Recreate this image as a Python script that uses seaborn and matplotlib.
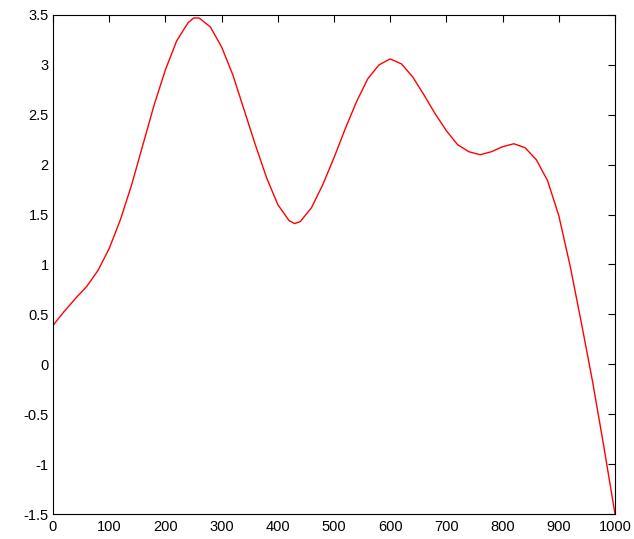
import matplotlib
matplotlib.use("Agg")
import matplotlib.pyplot as plt
import seaborn as sns
import pandas as pd

x_vals = [0, 20, 40, 60, 80, 100, 120, 140, 160, 180, 200, 220, 240, 250, 260, 280,
          300, 320, 340, 360, 380, 400, 420, 430, 440, 460, 480, 500, 520, 540, 560,
          580, 600, 620, 640, 660, 680, 700, 720, 740, 760, 780, 800, 820, 840, 860,
          880, 900, 920, 940, 960, 980, 1000]
y_vals = [0.39, 0.53, 0.66, 0.78, 0.94, 1.16, 1.45, 1.80, 2.20, 2.60, 2.95, 3.24, 3.42,
          3.47, 3.47, 3.38, 3.18, 2.90, 2.55, 2.20, 1.87, 1.60, 1.44, 1.41, 1.43, 1.57,
          1.80, 2.07, 2.36, 2.63, 2.86, 3.00, 3.06, 3.01, 2.88, 2.70, 2.51, 2.34, 2.20,
          2.13, 2.10, 2.13, 2.18, 2.21, 2.17, 2.05, 1.84, 1.49, 0.99, 0.42, -0.17, -0.82,
          -1.50]
x_ticks = [0, 100, 200, 300, 400, 500, 600, 700, 800, 900, 1000]
y_ticks = [-1.5, -1, -0.5, 0, 0.5, 1, 1.5, 2, 2.5, 3, 3.5]
y_tick_labels = ["-1.5", "-1", "-0.5", "0", "0.5", "1", "1.5", "2", "2.5", "3", "3.5"]

df = pd.DataFrame({"x": x_vals, "y": y_vals})

sns.set_style("white")
plt.rcParams["font.family"] = ["Liberation Sans", "DejaVu Sans"]

fig = plt.figure(figsize=(6.34, 5.39), dpi=100)
ax = fig.add_axes([53 / 634, 25 / 539, (615 - 53) / 634, (514 - 15) / 539])
sns.lineplot(data=df, x="x", y="y", ax=ax, color="#ff0000", linewidth=1.0)

ax.set_xlim(0, 1000)
ax.set_ylim(-1.5, 3.5)
ax.set_xticks(x_ticks)
ax.set_xticklabels([str(t) for t in x_ticks])
ax.set_yticks(y_ticks)
ax.set_yticklabels(y_tick_labels)
ax.set_xlabel("")
ax.set_ylabel("")
for s in ax.spines.values():
    s.set_visible(True)
    s.set_color("black")
    s.set_linewidth(0.8)
ax.tick_params(direction="in", length=5, width=0.8, top=True, right=True,
               labelsize=10.5, colors="black", pad=3)
ax.tick_params(axis="x", pad=4)

fig.savefig("out.png", dpi=100, facecolor="white")
